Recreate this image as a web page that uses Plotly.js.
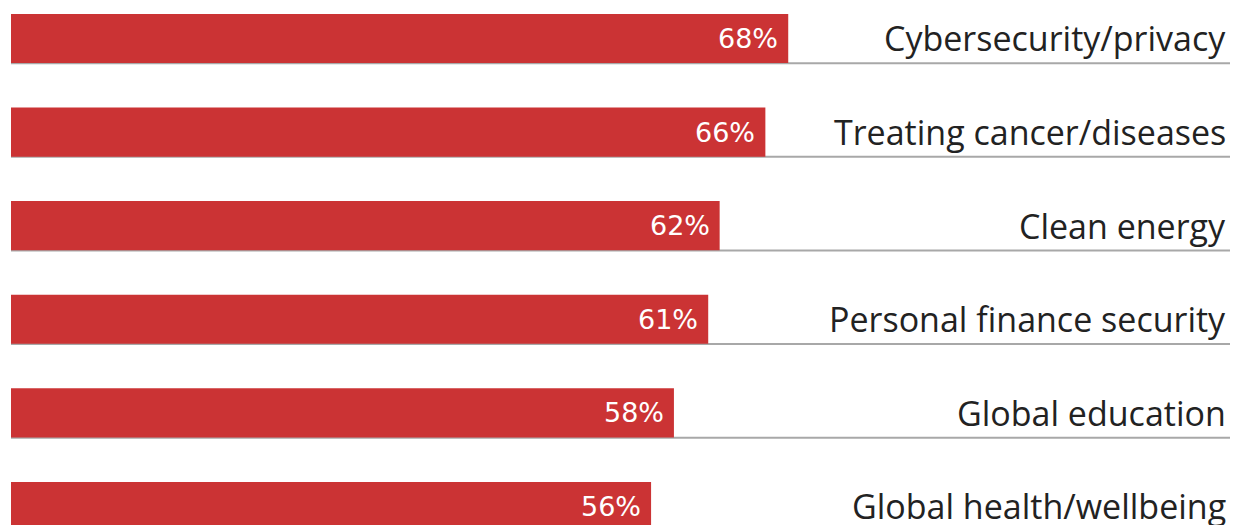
<!DOCTYPE html>
<html>
<head>
<meta charset="utf-8">
<script src="https://cdn.plot.ly/plotly-3.0.1.min.js"></script>
<style>html,body{margin:0;padding:0;background:#fff;}#chart{width:1236px;height:525px;}</style>
</head>
<body>
<div id="chart"></div>
<script>
const categories = ["Cybersecurity/privacy","Treating cancer/diseases","Clean energy","Personal finance security","Global education","Global health/wellbeing"];
const values = [68, 66, 62, 61, 58, 56];
const valueLabels = values.map(v => v + "%");

const FONT = "'Open Sans', sans-serif";
const VFONT = "'DejaVu Sans', 'Open Sans', sans-serif";
const trace = {
  type: "bar",
  orientation: "h",
  x: values,
  y: categories,
  marker: {color: "#cb3334", line: {width: 0}},
  hoverinfo: "none",
  width: 0.525
};

const shapes = categories.map((c, i) => ({
  type: "line", xref: "paper", yref: "y",
  x0: 0, x1: 1, y0: i + 0.265, y1: i + 0.265,
  line: {color: "#a8a8a8", width: 2}, layer: "below"
}));

const valueAnns = values.map((v, i) => ({
  x: v, y: categories[i], xref: "x", yref: "y",
  text: valueLabels[i], showarrow: false,
  xanchor: "right", yanchor: "middle", xshift: -8, yshift: 0,
  font: {family: VFONT, size: 27, color: "#ffffff"}
}));
const catAnns = categories.map((c, i) => ({
  x: 1, y: c, xref: "paper", yref: "y",
  text: c, showarrow: false,
  xanchor: "right", yanchor: "middle", xshift: -2, yshift: 0,
  font: {family: FONT, size: 34, color: "#222222"}
}));

const layout = {
  width: 1236, height: 525,
  margin: {l: 11, r: 6, t: 0, b: 0, pad: 0},
  paper_bgcolor: "#ffffff", plot_bgcolor: "#ffffff",
  showlegend: false,
  xaxis: {range: [0, 106.65], visible: false, fixedrange: true},
  yaxis: {type: "category", range: [5.198, -0.411], visible: false, fixedrange: true},
  shapes: shapes,
  annotations: valueAnns.concat(catAnns)
};

Plotly.newPlot("chart", [trace], layout, {displayModeBar: false, staticPlot: true});
</script>
</body>
</html>
